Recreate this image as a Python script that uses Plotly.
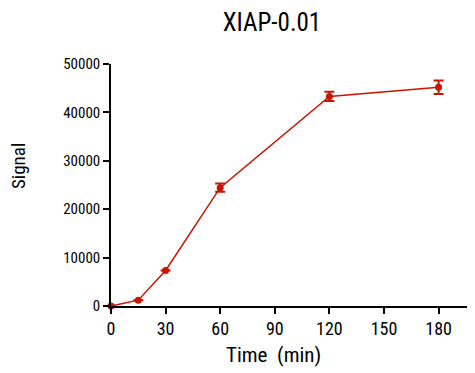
import plotly.graph_objects as go

time_min = [0, 15, 30, 60, 120, 180]
signal = [0, 1200, 7350, 24450, 43300, 45200]
signal_err = [0, 0, 0, 850, 950, 1400]
x_ticks = [0, 30, 60, 90, 120, 150, 180]
y_ticks = [0, 10000, 20000, 30000, 40000, 50000]

FONT = "Roboto Condensed, DejaVu Sans Condensed, sans-serif"
RED = "#c81400"
W, H = 475, 373
# page is drawn with an 8px body offset; plot area in figure pixels
L, T, B = 103, 56, 75
PW, PH = W - L, H - T - B

fig = go.Figure()
fig.add_trace(go.Scatter(
    x=time_min, y=signal,
    mode="lines+markers",
    line=dict(color=RED, width=1.5),
    marker=dict(color=RED, size=7),
    error_y=dict(type="data", array=signal_err, color=RED, thickness=2, width=5, visible=True),
    showlegend=False,
    cliponaxis=False,
))

fig.update_layout(
    width=W, height=H,
    margin=dict(l=L, r=0, t=T, b=B, autoexpand=False),
    paper_bgcolor="white", plot_bgcolor="white",
    font=dict(family=FONT, color="black", size=15),
    title=dict(text="XIAP-0.01", x=264 / W, xref="container", xanchor="center",
               y=1 - 14 / H, yref="container", yanchor="middle",
               font=dict(family=FONT, size=25, color="black")),
    annotations=[
        dict(text="Time  (min)", x=(265 - L) / PW, y=(PH + T - 347) / PH,
             xref="paper", yref="paper", xanchor="center", yanchor="middle",
             showarrow=False, font=dict(family=FONT, size=21, color="black")),
        dict(text="Signal", x=(10 - L) / PW, y=(PH + T - 158) / PH,
             xref="paper", yref="paper", xanchor="center", yanchor="middle",
             showarrow=False, textangle=-90, font=dict(family=FONT, size=19, color="black")),
    ],
)

fig.update_xaxes(
    range=[0, 30 * PW / 54.6], tickvals=x_ticks, ticktext=[str(v) for v in x_ticks],
    showline=True, linecolor="black", linewidth=1.5,
    ticks="outside", ticklen=6, tickwidth=1.5, tickcolor="black",
    tickfont=dict(size=18), automargin=False,
    showgrid=False, zeroline=False,
)
fig.update_yaxes(
    range=[0, 50000], tickvals=y_ticks, ticktext=[str(v) for v in y_ticks],
    showline=True, linecolor="black", linewidth=1.5,
    ticks="outside", ticklen=6, tickwidth=1.5, tickcolor="black",
    tickfont=dict(size=15), automargin=False,
    showgrid=False, zeroline=False,
)

fig.write_html("out.html")
